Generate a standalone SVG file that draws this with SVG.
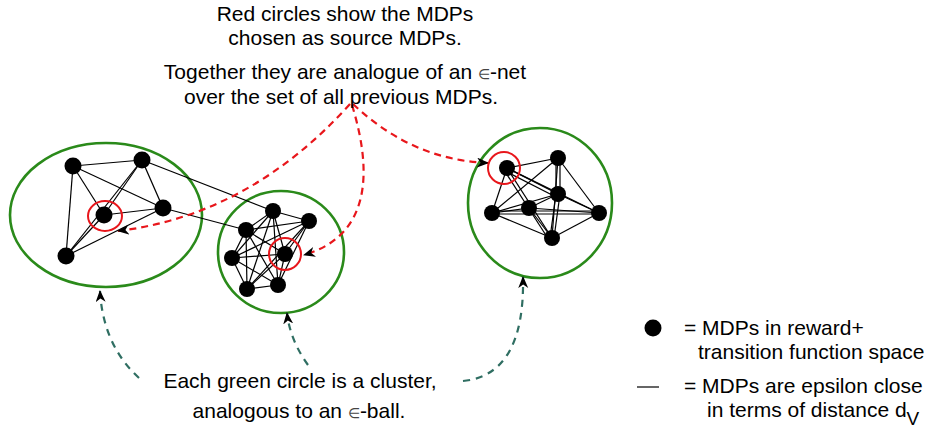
<svg xmlns="http://www.w3.org/2000/svg" width="942" height="429" viewBox="0 0 942 429">
<style>
.t{font-family:"Liberation Sans",Arial,sans-serif;font-size:21px;fill:#000}
.eps{font-size:14px;fill:#444}
.n{fill:#000}
.e{stroke:#000;stroke-width:1.2;fill:none}
.cl{fill:none;stroke:#2a8a1a;stroke-width:2.6}
.rc{fill:none;stroke:#e8161b;stroke-width:2}
.rd{fill:none;stroke:#e8161b;stroke-width:2.2;stroke-dasharray:7 5;marker-end:url(#ah)}
.gd{fill:none;stroke:#2f6e62;stroke-width:2.2;stroke-dasharray:7 6;marker-end:url(#ah)}
</style>
<defs>
<marker id="ah" markerUnits="userSpaceOnUse" markerWidth="14" markerHeight="12" refX="11" refY="5" orient="auto">
<path d="M0,0 L12,5 L0,10 L3.5,5 Z" fill="#000"/>
</marker>
</defs>
<rect width="942" height="429" fill="#fff"/>

<g id="clusters">
<ellipse id="cluster-left" class="cl" cx="106" cy="215" rx="96" ry="72"/>
<ellipse id="cluster-mid" class="cl" cx="281" cy="252" rx="63" ry="61"/>
<ellipse id="cluster-right" class="cl" cx="540" cy="203" rx="72" ry="75"/>
</g>

<g id="connectors">
<!-- left cluster -->
<line class="e" x1="73" y1="166" x2="142" y2="160"/>
<line class="e" x1="73" y1="166" x2="66" y2="256"/>
<line class="e" x1="73" y1="166" x2="104" y2="215"/>
<line class="e" x1="73" y1="166" x2="163" y2="208"/>
<line class="e" x1="142" y1="160" x2="104" y2="215"/>
<line class="e" x1="142" y1="160" x2="66" y2="256"/>
<line class="e" x1="104" y1="215" x2="66" y2="256"/>
<line class="e" x1="142" y1="160" x2="163" y2="208"/>
<line class="e" x1="104" y1="215" x2="163" y2="208"/>
<line class="e" x1="66" y1="256" x2="163" y2="208"/>
<!-- cross-cluster -->
<line class="e" x1="142" y1="160" x2="273" y2="211"/>
<line class="e" x1="163" y1="208" x2="246" y2="230"/>
<!-- middle cluster -->
<line class="e" x1="273" y1="211" x2="309" y2="221"/>
<line class="e" x1="273" y1="211" x2="246" y2="230"/>
<line class="e" x1="273" y1="211" x2="285" y2="254"/>
<line class="e" x1="273" y1="211" x2="232" y2="258"/>
<line class="e" x1="273" y1="211" x2="247" y2="289"/>
<line class="e" x1="273" y1="211" x2="278" y2="285"/>
<line class="e" x1="309" y1="221" x2="246" y2="230"/>
<line class="e" x1="309" y1="221" x2="285" y2="254"/>
<line class="e" x1="309" y1="221" x2="278" y2="285"/>
<line class="e" x1="309" y1="221" x2="247" y2="289"/>
<line class="e" x1="309" y1="221" x2="232" y2="258"/>
<line class="e" x1="246" y1="230" x2="285" y2="254"/>
<line class="e" x1="246" y1="230" x2="232" y2="258"/>
<line class="e" x1="246" y1="230" x2="247" y2="289"/>
<line class="e" x1="246" y1="230" x2="278" y2="285"/>
<line class="e" x1="285" y1="254" x2="232" y2="258"/>
<line class="e" x1="285" y1="254" x2="247" y2="289"/>
<line class="e" x1="285" y1="254" x2="278" y2="285"/>
<line class="e" x1="232" y1="258" x2="247" y2="289"/>
<line class="e" x1="232" y1="258" x2="278" y2="285"/>
<line class="e" x1="247" y1="289" x2="278" y2="285"/>
<!-- right cluster -->
<line class="e" x1="507" y1="168" x2="558" y2="158"/>
<line class="e" x1="507" y1="168" x2="492" y2="213"/>
<line class="e" x1="507" y1="168" x2="558" y2="194"/>
<line class="e" x1="505" y1="171" x2="556" y2="197"/>
<line class="e" x1="507" y1="168" x2="599" y2="213"/>
<line class="e" x1="507" y1="168" x2="552" y2="238"/>
<line class="e" x1="504" y1="170" x2="549" y2="240"/>
<line class="e" x1="556" y1="158" x2="556" y2="194"/>
<line class="e" x1="560" y1="158" x2="560" y2="194"/>
<line class="e" x1="558" y1="158" x2="492" y2="213"/>
<line class="e" x1="558" y1="158" x2="599" y2="213"/>
<line class="e" x1="558" y1="158" x2="552" y2="238"/>
<line class="e" x1="558" y1="194" x2="492" y2="213"/>
<line class="e" x1="558" y1="194" x2="529" y2="208"/>
<line class="e" x1="558" y1="194" x2="599" y2="213"/>
<line class="e" x1="556" y1="194" x2="550" y2="238"/>
<line class="e" x1="560" y1="194" x2="554" y2="238"/>
<line class="e" x1="492" y1="213" x2="529" y2="208"/>
<line class="e" x1="492" y1="211" x2="599" y2="211"/>
<line class="e" x1="492" y1="214" x2="599" y2="214"/>
<line class="e" x1="492" y1="213" x2="552" y2="238"/>
<line class="e" x1="529" y1="208" x2="599" y2="213"/>
<line class="e" x1="529" y1="208" x2="552" y2="238"/>
<line class="e" x1="599" y1="213" x2="552" y2="238"/>
<!-- red dashed annotation arrows -->
<path class="rd" d="M350,104 Q250,215 118,231"/>
<path class="rd" d="M352,105 C372,170 372,235 304,255"/>
<path class="rd" d="M353,104 Q412,160 488,163"/>
<!-- green dashed annotation arrows -->
<path class="gd" d="M139,378 Q103,345 100,291"/>
<path class="gd" d="M308,365 Q290,340 287,313"/>
<path class="gd" d="M463,381 Q525,375 523,277"/>
</g>

<g id="source-markers">
<ellipse class="rc" cx="105" cy="216" rx="17" ry="15"/>
<circle class="rc" cx="285" cy="254" r="16"/>
<circle class="rc" cx="504" cy="168" r="16"/>
</g>

<g id="node-L1"><circle class="n" cx="73" cy="166" r="8.5"/></g>
<g id="node-L2"><circle class="n" cx="142" cy="160" r="8.5"/></g>
<g id="node-L3"><circle class="n" cx="104" cy="215" r="8.5"/></g>
<g id="node-L4"><circle class="n" cx="163" cy="208" r="8.5"/></g>
<g id="node-L5"><circle class="n" cx="66" cy="256" r="8.5"/></g>

<g id="node-M1"><circle class="n" cx="273" cy="211" r="8"/></g>
<g id="node-M2"><circle class="n" cx="309" cy="221" r="8"/></g>
<g id="node-M3"><circle class="n" cx="246" cy="230" r="8"/></g>
<g id="node-M4"><circle class="n" cx="285" cy="254" r="8"/></g>
<g id="node-M5"><circle class="n" cx="232" cy="258" r="8"/></g>
<g id="node-M6"><circle class="n" cx="247" cy="289" r="8"/></g>
<g id="node-M7"><circle class="n" cx="278" cy="285" r="8"/></g>

<g id="node-R1"><circle class="n" cx="507" cy="168" r="8"/></g>
<g id="node-R2"><circle class="n" cx="558" cy="158" r="8"/></g>
<g id="node-R3"><circle class="n" cx="558" cy="194" r="8"/></g>
<g id="node-R4"><circle class="n" cx="492" cy="213" r="8"/></g>
<g id="node-R5"><circle class="n" cx="529" cy="208" r="8"/></g>
<g id="node-R6"><circle class="n" cx="599" cy="213" r="8"/></g>
<g id="node-R7"><circle class="n" cx="552" cy="238" r="8"/></g>

<g id="text-top">
<text class="t" x="345" y="21" text-anchor="middle">Red circles show the MDPs</text>
<text class="t" x="345" y="45" text-anchor="middle">chosen as source MDPs.</text>
<text class="t" x="345" y="79" text-anchor="middle">Together they are analogue of an <tspan class="eps">∈</tspan>-net</text>
<text class="t" x="341" y="104" text-anchor="middle">over the set of all previous MDPs.</text>
</g>

<g id="text-bottom">
<text class="t" x="300" y="388" text-anchor="middle">Each green circle is a cluster,</text>
<text class="t" x="299" y="418" text-anchor="middle">analogous to an <tspan class="eps">∈</tspan>-ball.</text>
</g>

<g id="legend">
<circle class="n" cx="653" cy="328" r="8.5"/>
<text class="t" x="684" y="335">= MDPs in reward+</text>
<text class="t" x="698" y="359">transition function space</text>
<line x1="637" y1="387" x2="659" y2="387" stroke="#000" stroke-width="1.2"/>
<text class="t" x="684" y="393">= MDPs are epsilon close</text>
<text class="t" x="707" y="417">in terms of distance d<tspan dy="8" font-size="19">V</tspan></text>
</g>
</svg>
